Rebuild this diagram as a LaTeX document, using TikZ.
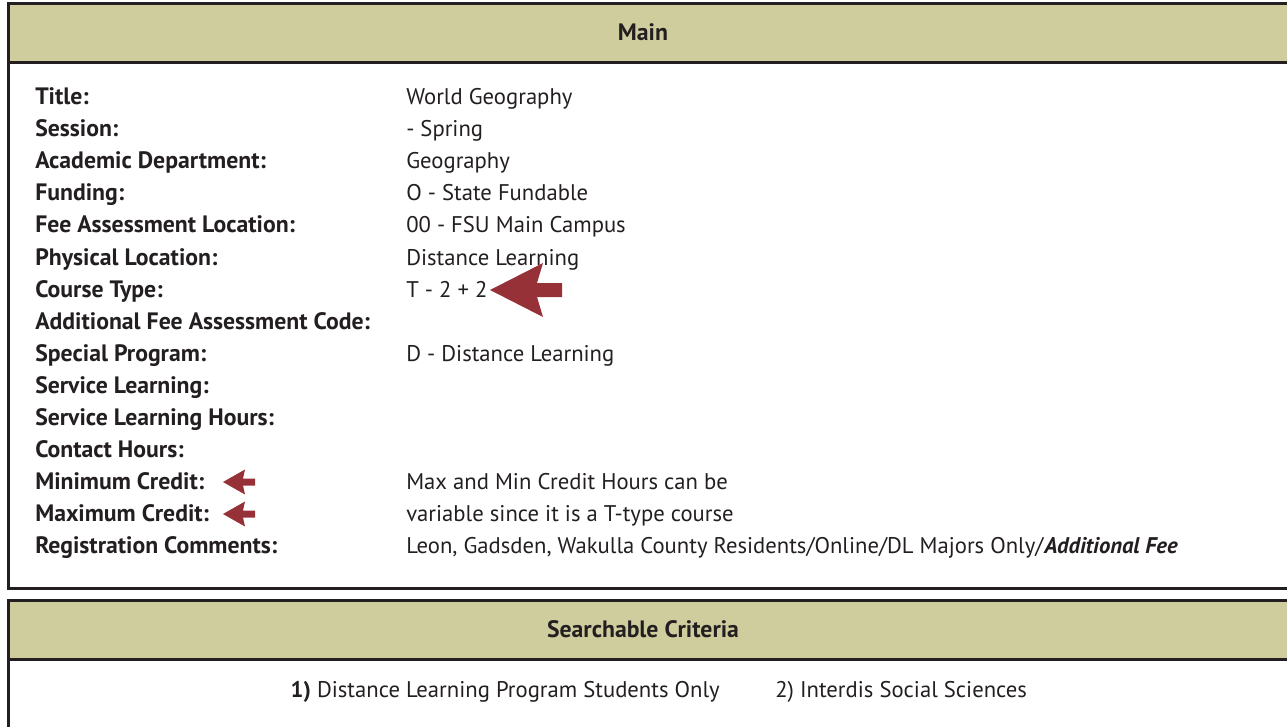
\documentclass[tikz,border=0pt]{standalone}
\usepackage{fontspec}
\setmainfont{PT Sans}
\usepackage{xcolor}
\definecolor{headkhaki}{RGB}{207, 205, 158}
\definecolor{inkgray}{RGB}{35, 31, 32}
\definecolor{arrowred}{RGB}{150, 49, 56}
\usetikzlibrary{positioning}

\begin{document}
\begin{tikzpicture}[
        x=0.75pt, y=-0.75pt,
        every node/.style={font=\fontsize{17}{20}\selectfont, text=inkgray, inner sep=0pt},
        panel/.style={draw=inkgray, line width=2.25pt},
        headband/.style={fill=headkhaki, draw=inkgray, line width=2.25pt},
        lbl/.style={anchor=base west, font=\fontsize{17.8}{20}\selectfont\bfseries},
        val/.style={anchor=base west},
        headtxt/.style={anchor=base, font=\fontsize{17.8}{20}\selectfont\bfseries},
        bigarrow/.pic={\fill[arrowred] (0,0) -- (53,-27) -- (47,-7) -- (72,-7) -- (72,7) -- (47,7) -- (53,27) -- cycle;},
        smallarrow/.pic={\fill[arrowred] (0,0) -- (22,-12.5) -- (20,-3.5) -- (32,-3.5) -- (32,3.5) -- (20,3.5) -- (22,12.5) -- cycle;}
    ]
        \useasboundingbox (0,0) rectangle (1287,727);
        \clip (0,0) rectangle (1287,727);

        % Panels
        \draw[panel] (8,4) rectangle (1310,588);
        \draw[headband] (8,4) rectangle (1310,63);
        \draw[panel] (8,600) rectangle (1310,760);
        \draw[headband] (8,600) rectangle (1310,659);

        % Headers
        \node[headtxt] (mainhead) at (643,41) {Main};
        \node[headtxt] (searchhead) at (643,637) {Searchable Criteria};

        % Labels
        \node[lbl] (title) at (35,105) {Title:};
        \node[lbl] (session) at (35,137) {Session:};
        \node[lbl] (dept) at (35,169) {Academic Department:};
        \node[lbl] (funding) at (35,201) {Funding:};
        \node[lbl] (feeloc) at (35,233) {Fee Assessment Location:};
        \node[lbl] (physloc) at (35,265) {Physical Location:};
        \node[lbl] (ctype) at (35,297) {Course Type:};
        \node[lbl] (addfee) at (35,329) {Additional Fee Assessment Code:};
        \node[lbl] (special) at (35,361) {Special Program:};
        \node[lbl] (service) at (35,393) {Service Learning:};
        \node[lbl] (servhours) at (35,425) {Service Learning Hours:};
        \node[lbl] (contact) at (35,457) {Contact Hours:};
        \node[lbl] (mincred) at (35,489) {Minimum Credit:};
        \node[lbl] (maxcred) at (35,521) {Maximum Credit:};
        \node[lbl] (regcom) at (35,553) {Registration Comments:};

        % Values
        \node[val] (titleval) at (406,105) {World Geography};
        \node[val] (sessionval) at (406,137) {- Spring};
        \node[val] (deptval) at (406,169) {Geography};
        \node[val] (fundingval) at (406,201) {O - State Fundable};
        \node[val] (feelocval) at (406,233) {00 - FSU Main Campus};
        \node[val] (physlocval) at (406,265) {Distance Learning};
        \node[val] (ctypeval) at (406,297) {T - 2 + 2};
        \node[val] (specialval) at (406,361) {D - Distance Learning};
        \node[val] (minval) at (406,489) {Max and Min Credit Hours can be};
        \node[val] (maxval) at (406,521) {variable since it is a T-type course};
        \node[val] (regval) at (406,553) {Leon, Gadsden, Wakulla County Residents/Online/DL Majors Only/\textbf{\textit{Additional Fee}}};

        % Searchable criteria
        \node[anchor=base east] (crit1) at (720,697) {\textbf{1)} Distance Learning Program Students Only};
        \node[anchor=base west] (crit2) at (775,697) {2) Interdis Social Sciences};

        % Pointers
        \pic at (490,290) {bigarrow};
        \pic at (223,482) {smallarrow};
        \pic at (223,514) {smallarrow};

    \end{tikzpicture}
\end{document}
